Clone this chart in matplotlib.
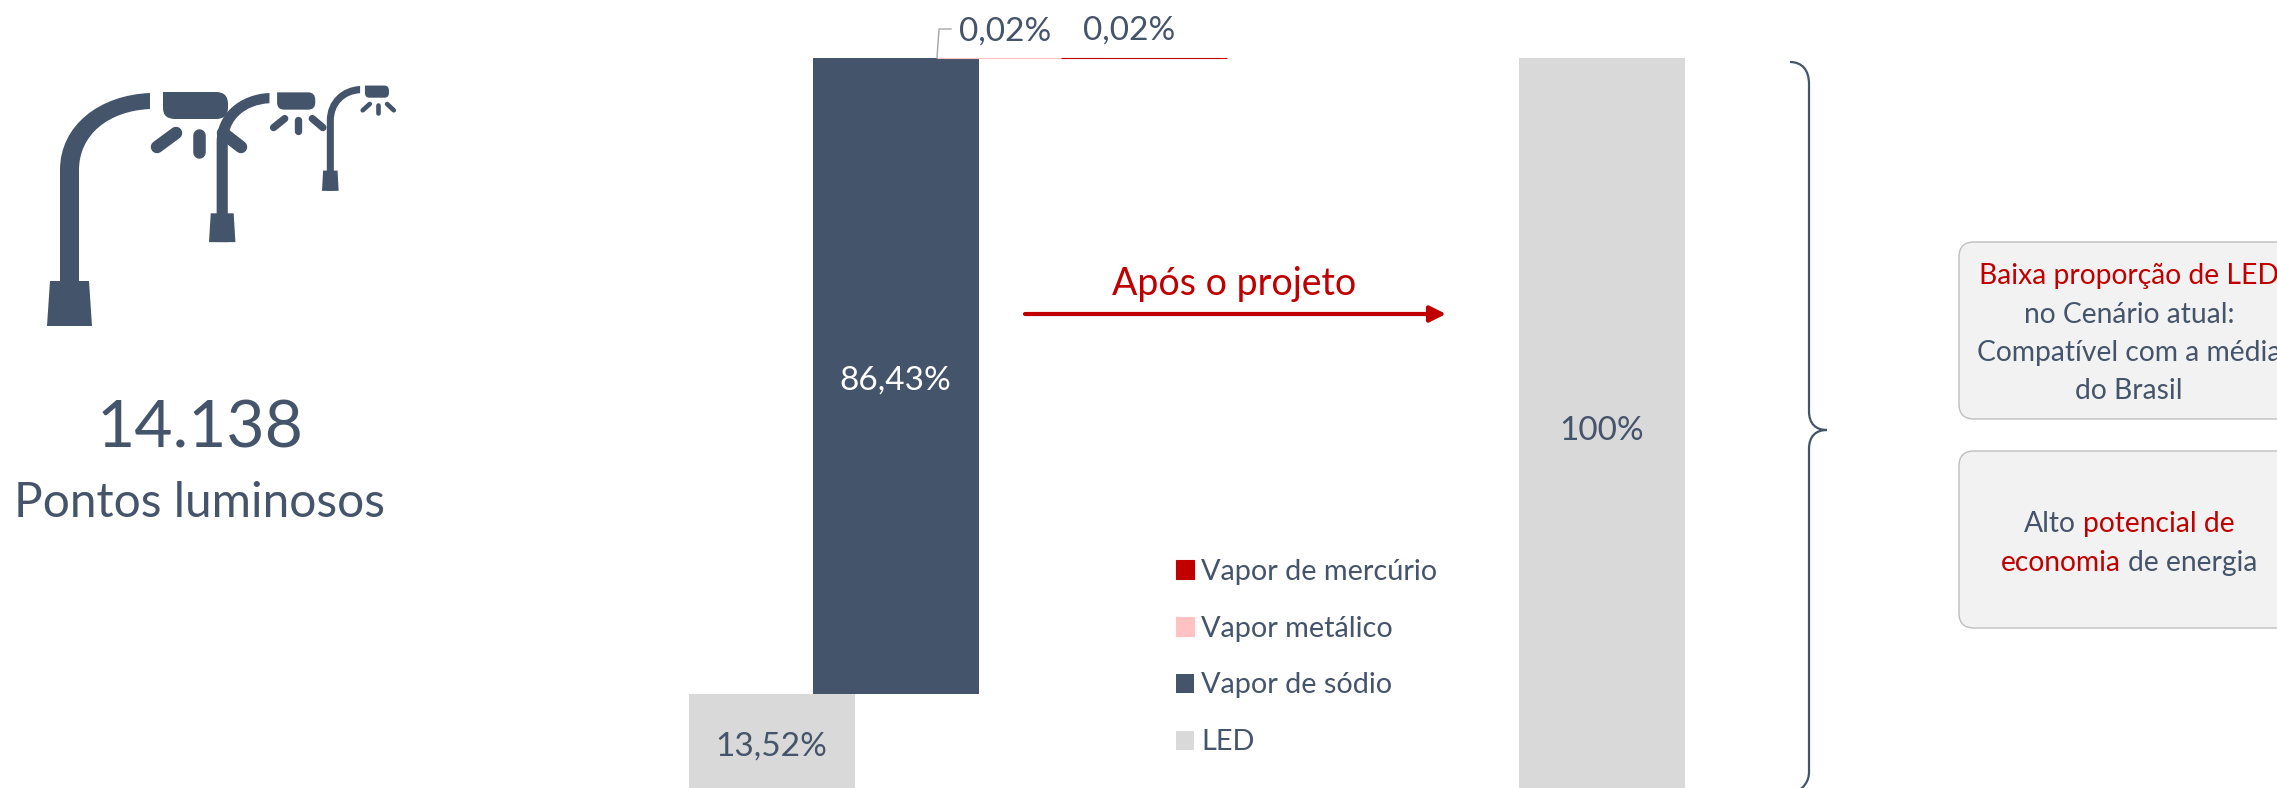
import matplotlib
matplotlib.use("Agg")
from matplotlib import pyplot as plt
from matplotlib.patches import FancyBboxPatch, PathPatch, Polygon
from matplotlib.path import Path
from matplotlib.transforms import Affine2D
import numpy as np

plt.rcParams["font.family"] = ["Lato", "DejaVu Sans"]

# Data
categories = ["LED", "Vapor de sódio", "Vapor metálico", "Vapor de mercúrio"]
before_values = [13.52, 86.43, 0.02, 0.02]
before_labels = ["13,52%", "86,43%", "0,02%", "0,02%"]
after_value = 100
after_label = "100%"
total_points = "14.138"
total_caption = "Pontos luminosos"
arrow_title = "Após o projeto"

# Colours
SLATE = "#44546A"
GREY = "#D9D9D9"
RED = "#C00000"
PINK = "#FFC1C1"
colors = [GREY, SLATE, PINK, RED]

# Figure, one axes per job
W, H = 2277, 788
fig = plt.figure(figsize=(W / 100, H / 100), dpi=100)

# Bars: 124 px between categories, 7.35 px per percent, zero just under the image
ax = fig.add_axes([0, 0, 1, 1])
STEP = 124
X0 = 771.5
Y0 = 793
PX_PER_PCT = 7.35
ax.set_xlim(-X0 / STEP, (W - X0) / STEP)
ax.set_ylim((Y0 - H) / PX_PER_PCT, Y0 / PX_PER_PCT)
ax.axis("off")

BAR_W = 166 / STEP
x_after = (1602 - X0) / STEP
bottoms = np.concatenate(([0], np.cumsum(before_values)[:-1]))
for i in [0, 1, 2, 3]:
    # the two 0,02% bars are thinner than a pixel, the edge keeps them visible
    ax.bar(i, before_values[i], BAR_W, bottom=bottoms[i], color=colors[i],
           edgecolor=colors[i], linewidth=0.8 if i > 1 else 0, label=categories[i], zorder=2)
ax.bar(x_after, after_value, BAR_W, color=GREY, zorder=2)

ax.text(0, bottoms[0] + before_values[0] / 2 - 0.4, before_labels[0], color=SLATE, fontsize=24,
        ha="center", va="center", zorder=3)
ax.text(1, bottoms[1] + before_values[1] / 2 - 0.6, before_labels[1], color="white", fontsize=24,
        ha="center", va="center", zorder=3)
ax.text(x_after, after_value / 2 - 0.8, after_label, color=SLATE, fontsize=24,
        ha="center", va="center", zorder=3)

# Legend, same order as the stack from the top
handles, labels = ax.get_legend_handles_labels()
order = [labels.index(c) for c in categories[::-1]]
ax.legend([handles[i] for i in order], [labels[i] for i in order], loc="upper left",
          bbox_to_anchor=(1167 / W, 1 - 550 / H), frameon=False, fontsize=20.8,
          labelcolor=SLATE, handlelength=0.62, handleheight=0.62, handletextpad=0.26,
          labelspacing=1.07, borderpad=0.3, borderaxespad=0)

# Overlay in image pixels for the annotations
px = fig.add_axes([0, 0, 1, 1])
px.set_xlim(0, W)
px.set_ylim(H, 0)
px.axis("off")
px.patch.set_alpha(0)

px.text(1005, 32, before_labels[2], color=SLATE, fontsize=24, ha="center", va="center")
px.text(1129, 31, before_labels[3], color=SLATE, fontsize=24, ha="center", va="center")
px.plot([937, 939, 951], [58, 29, 29], color="#A6A6A6", lw=1)

px.text(200, 429, total_points, color=SLATE, fontsize=47.5, ha="center", va="center")
px.text(199, 503, total_caption, color=SLATE, fontsize=34.5, ha="center", va="center")

# Arrow
px.text(1234, 284, arrow_title, color=RED, fontsize=27, ha="center", va="center")
px.annotate("", xy=(1446, 314), xytext=(1025, 314),
            arrowprops=dict(arrowstyle="-|>", color=RED, lw=3, mutation_scale=24,
                            shrinkA=0, shrinkB=0))

# Brace
brace_v = [(1790, 62), (1802, 62), (1809, 70), (1809, 84), (1809, 411), (1809, 424), (1816, 430), (1827, 430),
           (1816, 430), (1809, 436), (1809, 449), (1809, 772), (1809, 782), (1803, 788), (1797, 792)]
brace_c = [Path.MOVETO, Path.CURVE4, Path.CURVE4, Path.CURVE4, Path.LINETO, Path.CURVE4, Path.CURVE4, Path.CURVE4,
           Path.CURVE4, Path.CURVE4, Path.CURVE4, Path.LINETO, Path.CURVE4, Path.CURVE4, Path.CURVE4]
px.add_patch(PathPatch(Path(brace_v, brace_c), fill=False, edgecolor=SLATE, lw=1.6))


# Lamp icon, coordinates of the largest one
def lamp(tf):
    t = tf + px.transData
    pole_v = [(60, 326), (60, 170), (60, 125), (100, 95), (150, 93), (150, 109), (108, 111), (79, 135), (79, 170),
              (79, 326), (60, 326)]
    pole_c = [Path.MOVETO, Path.LINETO, Path.CURVE4, Path.CURVE4, Path.CURVE4, Path.LINETO, Path.CURVE4, Path.CURVE4,
              Path.CURVE4, Path.LINETO, Path.CLOSEPOLY]
    px.add_patch(PathPatch(Path(pole_v, pole_c), facecolor=SLATE, edgecolor="none", transform=t))
    px.add_patch(Polygon([(50, 281), (89, 281), (92, 326), (47, 326)], facecolor=SLATE, edgecolor="none", transform=t))
    head_v = [(163, 92), (216, 92), (228, 92), (228, 104), (228, 108), (228, 119), (216, 119), (175, 119),
              (163, 119), (163, 108), (163, 92)]
    head_c = [Path.MOVETO, Path.LINETO, Path.CURVE3, Path.CURVE3, Path.LINETO, Path.CURVE3, Path.CURVE3, Path.LINETO,
              Path.CURVE3, Path.CURVE3, Path.CLOSEPOLY]
    px.add_patch(PathPatch(Path(head_v, head_c), facecolor=SLATE, edgecolor="none", transform=t))
    sx = tf.get_matrix()[0, 0]
    for xs, ys in [((157, 176), (147, 133)), ((199, 199), (135, 152)), ((223, 241), (133, 147))]:
        px.plot(xs, ys, color=SLATE, lw=9 * sx, solid_capstyle="round", transform=t)


lamp(Affine2D())
lamp(Affine2D().translate(-47, -93).scale(0.587, 0.64).translate(209, 93))
lamp(Affine2D().translate(-47, -93).scale(0.37, 0.45).translate(322, 86))


# Text line with several colours, centred on cx
def rich_line(cx, y, parts, size=20.3):
    r = fig.canvas.get_renderer()

    def width(s):
        probe = px.text(0, 0, s.replace(" ", "\u00a0"), fontsize=size)
        w = probe.get_window_extent(r).width
        probe.remove()
        return w

    left = cx - width("".join(p[0] for p in parts)) / 2
    done = ""
    for s, c in parts:
        px.text(left + width(done), y, s.strip(), color=c, fontsize=size, ha="left", va="center")
        done += s


# Boxes, cut off by the right edge of the image
for y0, y1 in [(242, 419), (451, 628)]:
    px.add_patch(FancyBboxPatch((1974, y0 + 15), 400, y1 - y0 - 30, boxstyle="round,pad=15,rounding_size=15",
                                facecolor="#F2F2F2", edgecolor="#BFBFBF", lw=1, clip_on=True))

rich_line(2129, 276, [("Baixa proporção de LED", RED)])
rich_line(2129, 315, [("no Cenário atual:", SLATE)])
rich_line(2129, 353, [("Compatível com a média", SLATE)])
rich_line(2129, 391, [("do Brasil", SLATE)])
rich_line(2129, 524, [("Alto ", SLATE), ("potencial de", RED)])
rich_line(2129, 563, [("economia ", RED), ("de energia", SLATE)])

fig.savefig("out.png", dpi=100)
